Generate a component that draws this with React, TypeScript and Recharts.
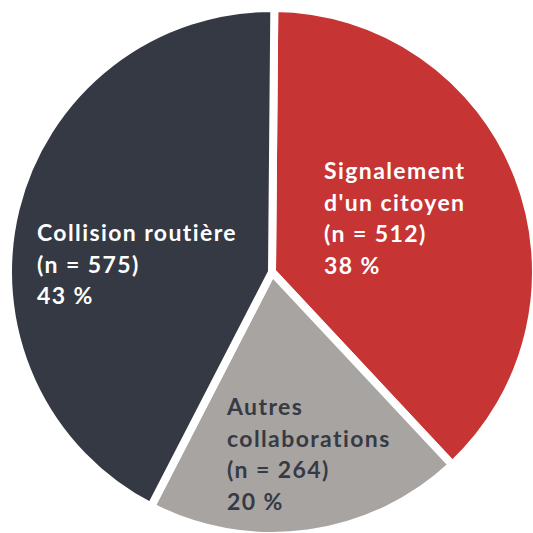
import { Cell, Pie, PieChart } from 'recharts';

const categories = ['Signalement', 'Autres', 'Collision'];
const labelLines = [
  ['Signalement', "d'un citoyen"],
  ['Autres', 'collaborations'],
  ['Collision routière'],
];
const counts = [512, 264, 575];
const percents = ['38 %', '20 %', '43 %'];

const colors = ['#c63434', '#a8a4a1', '#353943'];
const textColors = ['#ffffff', '#363a44', '#ffffff'];
// text block anchor (left edge, first baseline) relative to pie centre
const labelOffsets = [
  { dx: 52, dy: -93 },
  { dx: -45, dy: 143 },
  { dx: -235, dy: -31 },
];

const chartData = categories.map((name, i) => ({
  name,
  value: counts[i],
}));

const renderLabel = (props: any) => {
  const { cx, cy, index } = props;
  const off = labelOffsets[index];
  const lines = [...labelLines[index], `(n = ${counts[index]})`, percents[index]];
  return (
    <text
      x={cx + off.dx}
      y={cy + off.dy}
      fill={textColors[index]}
      textAnchor="start"
      style={{ fontFamily: 'Lato, sans-serif', fontWeight: 700, fontSize: 23, letterSpacing: 1.4 }}
    >
      {lines.map((line, i) => (
        <tspan key={i} x={cx + off.dx} dy={i === 0 ? 0 : 31.5}>
          {line}
        </tspan>
      ))}
    </text>
  );
};

export default function App() {
  return (
    <div style={{ position: 'absolute', left: 0, top: 0, width: 533, height: 533, background: '#fff' }}>
      <PieChart width={533} height={533} margin={{ top: 0, right: 0, bottom: 0, left: 0 }}>
        <Pie
          data={chartData}
          dataKey="value"
          cx={272}
          cy={272}
          outerRadius={264}
          startAngle={89.5}
          endAngle={-270.5}
          stroke="#ffffff"
          strokeWidth={8}
          label={renderLabel}
          labelLine={false}
          isAnimationActive={false}
        >
          {chartData.map((entry, i) => (
            <Cell key={entry.name} fill={colors[i]} />
          ))}
        </Pie>
      </PieChart>
    </div>
  );
}
